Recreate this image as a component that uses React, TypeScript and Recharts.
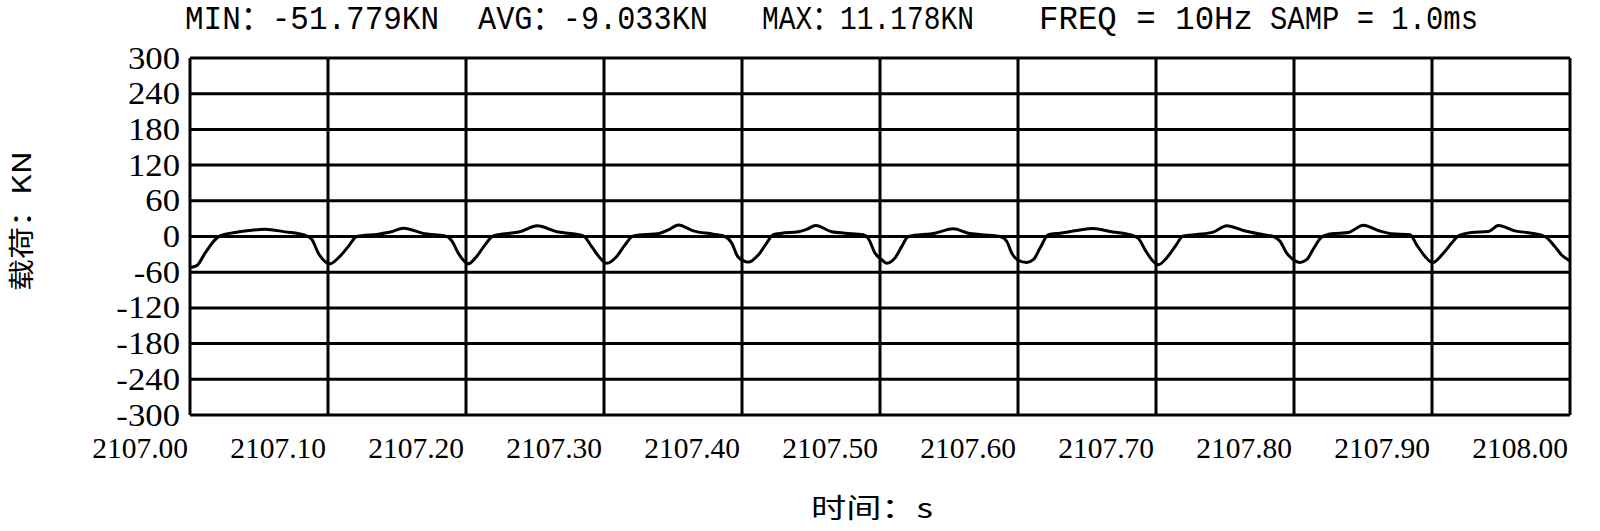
import React from 'react';
import { LineChart, Line, XAxis, YAxis, CartesianGrid, Customized } from 'recharts';

const START_TIME = 2107;

// time offsets (s) from 2107.00 s
const TIME_OFFSET_S = [
  0.0, 0.0048, 0.0109, 0.0181, 0.0217, 0.0326, 0.0447, 0.0543, 0.0688, 0.0833, 0.0882, 0.093, 0.0978, 0.1014,
  0.1075, 0.1147, 0.1208, 0.1365, 0.146, 0.1546, 0.1703, 0.1848, 0.1896, 0.1944, 0.2,
  0.2017, 0.2077, 0.2138, 0.2198, 0.2319, 0.239, 0.2517, 0.2657, 0.2778, 0.285, 0.2911, 0.2971, 0.302,
  0.3092, 0.3152, 0.3213, 0.3406, 0.3466, 0.3539, 0.3647, 0.3792, 0.3877, 0.3925, 0.397,
  0.4022, 0.4046, 0.4118, 0.4179, 0.4227, 0.4287, 0.4408, 0.4469, 0.4534, 0.465, 0.4746, 0.4879, 0.4915, 0.4964, 0.5012,
  0.5048, 0.5109, 0.5157, 0.5205, 0.5399, 0.5531, 0.564, 0.5737, 0.587, 0.5918, 0.5955,
  0.5995, 0.6063, 0.6111, 0.616, 0.622, 0.6304, 0.6425, 0.6546, 0.6667, 0.6812, 0.6872, 0.692, 0.6981,
  0.7017, 0.7077, 0.7138, 0.7198, 0.7295, 0.7415, 0.7512, 0.7633, 0.7742, 0.785, 0.7899, 0.7947, 0.7995,
  0.8007, 0.8043, 0.8092, 0.814, 0.8201, 0.8273, 0.8394, 0.8502, 0.8611, 0.8708, 0.8841, 0.8889, 0.895, 0.9003,
  0.9082, 0.9143, 0.9191, 0.9287, 0.9408, 0.9481, 0.9601, 0.9722, 0.9819, 0.9891, 0.9939, 0.9993, 1.0,
];

// load values (KN)
const LOAD_KN = [
  -52, -49, -28, -5.6, 1, 6.7, 10.6, 12.3, 7.8, 2.2, -4.5, -28, -42, -46,
  -36, -17, 0, 4, 8, 14, 4.5, 1, -7, -28, -44,
  -46, -33.5, -14, 1, 5.6, 8, 18, 8, 4.5, 1, -17, -36, -45,
  -33.5, -14, 1, 5.6, 11, 19.5, 9.5, 4, 0, -11, -34,
  -42, -43, -31, -11, 3, 5.6, 8, 12, 18.4, 8, 5.6, 3, -3, -28, -39,
  -45, -36, -17, 0, 5.6, 13, 5.6, 3, 0, -8, -28,
  -39, -43.6, -39, -19.5, 3, 5.6, 10, 13.4, 8.4, 3, -3, -22, -42,
  -47.5, -36, -17, 1, 3.4, 7.3, 18, 10, 4.5, 0, -8, -28, -39,
  -41, -43.6, -39, -21, -1, 4.5, 6.7, 19, 10, 4.5, 3, -14, -33.5, -44,
  -28, -11, 1, 6.7, 8.4, 18.4, 9.5, 5.6, 0, -17, -31, -40, -41,
];

const X_TICKS = [2107.0, 2107.1, 2107.2, 2107.3, 2107.4, 2107.5, 2107.6, 2107.7, 2107.8, 2107.9, 2108.0];
const X_TICK_LABELS = ['2107.00', '2107.10', '2107.20', '2107.30', '2107.40', '2107.50', '2107.60', '2107.70', '2107.80', '2107.90', '2108.00'];
const Y_TICKS = [-300, -240, -180, -120, -60, 0, 60, 120, 180, 240, 300];

const TITLE_PARTS = ['MIN：-51.779KN', 'AVG：-9.033KN', 'MAX：11.178KN', 'FREQ = 10Hz', 'SAMP = 1.0ms'];
const TITLE_X = [185, 478, 762, 1039, 1270];
const TITLE_W = [254, 230, 212, 214, 208];

const X_LABEL = '时间：s';
const Y_LABEL = '载荷：KN';

const data = TIME_OFFSET_S.map((t, i) => ({ t: START_TIME + t, v: LOAD_KN[i] }));

const SERIF = '"Liberation Serif", "Times New Roman", serif';
const MONO = '"Liberation Mono", "Noto Sans CJK SC", monospace';
const CJK = '"Noto Sans CJK SC", sans-serif';

const XTick = (props: any) => {
  const { x, y, payload } = props;
  const label = X_TICK_LABELS[payload.index] ?? String(payload.value);
  return (
    <text x={x - 2} y={y + 43} textAnchor="end" fontFamily={SERIF} fontSize={29.5} fill="#000">
      {label}
    </text>
  );
};

const YTick = (props: any) => {
  const { x, y, payload } = props;
  return (
    <text
      x={0}
      y={0}
      transform={`translate(${x}, ${y + 10.5}) scale(1.12, 1)`}
      textAnchor="end"
      fontFamily={SERIF}
      fontSize={31}
      fill="#000"
    >
      {payload.value}
    </text>
  );
};

const Decorations = () => (
  <g>
    {TITLE_PARTS.map((s, i) => (
      <text
        key={s}
        x={0}
        y={0}
        transform={`translate(${TITLE_X[i]}, 29) scale(1, 1.15)`}
        fontFamily={MONO}
        fontSize={29}
        fill="#000"
        textLength={TITLE_W[i]}
        lengthAdjust="spacingAndGlyphs"
      >
        {s}
      </text>
    ))}
    <text x={811} y={518} fontFamily={CJK} fontSize={27} fill="#000" textLength={122} lengthAdjust="spacingAndGlyphs">
      {X_LABEL}
    </text>
    <text
      x={0}
      y={0}
      transform="translate(31, 221) rotate(-90)"
      textAnchor="middle"
      fontFamily={CJK}
      fontSize={26}
      fill="#000"
      textLength={140}
      lengthAdjust="spacingAndGlyphs"
    >
      {Y_LABEL}
    </text>
  </g>
);

export default function App() {
  return (
    <div style={{ position: 'absolute', left: 0, top: 0, width: 1600, height: 531, background: '#fff' }}>
      <LineChart width={1600} height={531} data={data} margin={{ top: 58, right: 30, bottom: 56, left: 0 }}>
        <CartesianGrid stroke="#000" strokeWidth={3} />
        <XAxis
          dataKey="t"
          type="number"
          domain={[2107, 2108]}
          ticks={X_TICKS}
          interval={0}
          axisLine={false}
          tickLine={false}
          tickSize={0}
          tickMargin={0}
          height={60}
          tick={<XTick />}
          allowDataOverflow
        />
        <YAxis
          type="number"
          domain={[-300, 300]}
          ticks={Y_TICKS}
          interval={0}
          axisLine={false}
          tickLine={false}
          tickSize={0}
          tickMargin={10}
          width={190}
          tick={<YTick />}
          allowDataOverflow
        />
        <Line
          type="monotone"
          dataKey="v"
          stroke="#000"
          strokeWidth={3}
          dot={false}
          isAnimationActive={false}
        />
        <Customized component={Decorations} />
      </LineChart>
    </div>
  );
}
